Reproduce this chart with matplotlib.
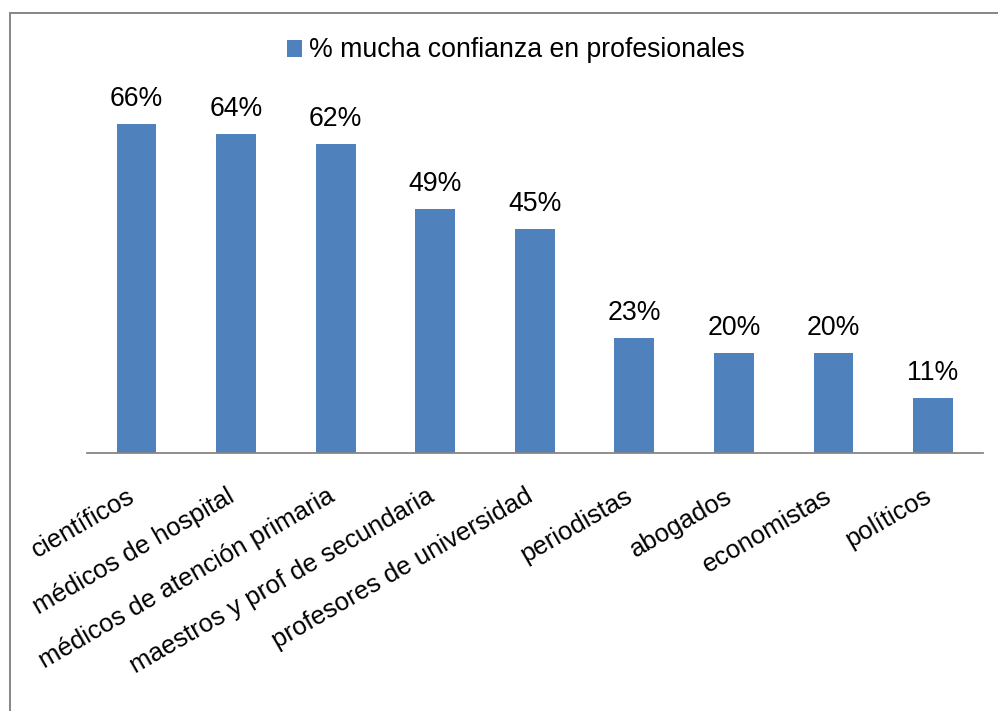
import matplotlib
matplotlib.use("Agg")
import matplotlib.pyplot as plt
from matplotlib.patches import Rectangle, Patch

categories = [
    "científicos",
    "médicos de hospital",
    "médicos de atención primaria",
    "maestros y prof de secundaria",
    "profesores de universidad",
    "periodistas",
    "abogados",
    "economistas",
    "políticos",
]
values = [66, 64, 62, 49, 45, 23, 20, 20, 11]
series_name = "% mucha confianza en profesionales"

BAR = "#4F81BD"
GRAY = "#868686"
FS = 19.2
FS_TICK = 18.5

plt.rcParams["font.family"] = ["Liberation Sans", "DejaVu Sans"]

fig = plt.figure(figsize=(9.98, 7.11), dpi=100)
ax = fig.add_axes([0.0869, 0.3633, 0.8979, 0.4903])

x = list(range(len(categories)))
ax.bar(x, values, width=0.4, color=BAR, edgecolor="none", zorder=2)

for xi, v in zip(x, values):
    ax.annotate(f"{v}%", (xi, v), xytext=(0, 13), textcoords="offset points",
                ha="center", va="baseline", fontsize=FS, color="black")

ax.set_xlim(-0.5, len(categories) - 0.5)
ax.set_ylim(0, 70)

for side in ("left", "right", "top"):
    ax.spines[side].set_visible(False)
ax.spines["bottom"].set_color(GRAY)
ax.spines["bottom"].set_linewidth(1.3)
ax.set_yticks([])

ax.set_xticks(x)
ax.set_xticklabels(categories, fontsize=FS_TICK)
ax.tick_params(axis="x", length=0, pad=34.5)
for lbl in ax.get_xticklabels():
    lbl.set_rotation(30)
    lbl.set_rotation_mode("anchor")
    lbl.set_ha("right")
    lbl.set_va("baseline")

handle = Patch(facecolor=BAR, edgecolor="none")
fig.legend([handle], [series_name], loc="center", bbox_to_anchor=(0.517, 0.929),
           frameon=False, fontsize=FS, handlelength=0.55, handleheight=0.6,
           handletextpad=0.25, borderpad=0)

# outer chart frame (runs off the right and bottom edges)
fig.patches.append(Rectangle((0.0105, -0.2), 1.5, 0.9817 + 0.2,
                             transform=fig.transFigure, fill=False,
                             edgecolor=GRAY, linewidth=1.4, clip_on=False))

fig.savefig("out.png", dpi=100, facecolor="white")
